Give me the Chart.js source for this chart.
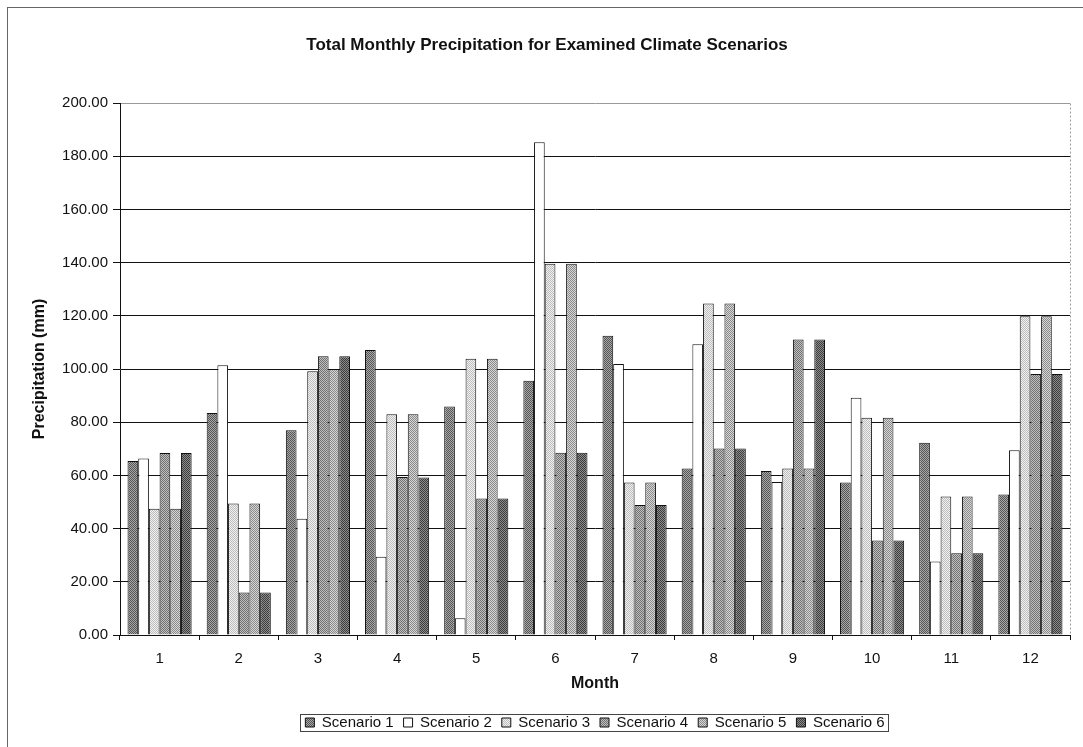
<!DOCTYPE html>
<html lang="en">
<head>
  <meta charset="UTF-8" />
  <title>Total Monthly Precipitation</title>
  <script src="https://cdn.jsdelivr.net/npm/chart.js"></script>
  <style>
    body {
      margin: 0;
      background: #ffffff;
      font-family: "Liberation Sans", Arial, sans-serif;
    }
    #rainChart {
      position: absolute;
      left: 0;
      top: 0;
    }
    /* the scan only shows the left and top edge of the chart frame */
    .frame {
      position: absolute;
      left: 7px;
      top: 7px;
      width: 1100px;
      height: 800px;
      border-left: 1px solid #666;
      border-top: 1px solid #666;
      pointer-events: none;
    }
  </style>
</head>
<body>
  <canvas id="rainChart" width="1083" height="747"></canvas>
  <div class="frame"></div>

  <script>
    // months on the x axis
    const months = ['1', '2', '3', '4', '5', '6', '7', '8', '9', '10', '11', '12'];
    const yTicks = [0, 20, 40, 60, 80, 100, 120, 140, 160, 180, 200];

    // precipitation (mm)
    const scenario1 = [65.4, 83.5, 77.0, 107.1, 85.9, 95.6, 112.5, 62.6, 61.7, 57.3, 72.3, 52.8];
    const scenario2 = [66.4, 101.4, 43.7, 29.4, 6.3, 185.2, 101.9, 109.3, 57.5, 89.2, 27.6, 69.5];
    const scenario3 = [47.5, 49.4, 99.2, 83.0, 103.9, 139.6, 57.3, 124.6, 62.6, 81.7, 52.1, 119.8];
    const scenario4 = [68.4, 16.0, 104.8, 59.4, 51.3, 68.5, 48.9, 70.1, 111.1, 35.5, 30.7, 98.1];
    const scenario5 = [47.5, 49.4, 100.0, 83.0, 103.9, 139.6, 57.3, 124.6, 62.6, 81.7, 52.1, 119.8];
    const scenario6 = [68.4, 16.0, 104.8, 59.2, 51.3, 68.5, 48.9, 70.1, 111.1, 35.5, 30.7, 98.1];

    const names = ['Scenario 1', 'Scenario 2', 'Scenario 3', 'Scenario 4', 'Scenario 5', 'Scenario 6'];
    const series = [scenario1, scenario2, scenario3, scenario4, scenario5, scenario6];

    // little dithered fills, like the old printed excel chart
    function hatch(dark, light, step) {
      const c = document.createElement('canvas');
      c.width = step;
      c.height = step;
      const g = c.getContext('2d');
      g.fillStyle = light;
      g.fillRect(0, 0, step, step);
      g.fillStyle = dark;
      for (let i = 0; i < step; i++) {
        g.fillRect(i, i, 1, 1);
        g.fillRect((i + 2) % step, i, 1, 1);
      }
      return g.createPattern(c, 'repeat');
    }

    const fills = [
      hatch('#555555', '#a8a8a8', 4),
      '#ffffff',
      hatch('#bdbdbd', '#f0f0f0', 4),
      hatch('#707070', '#c0c0c0', 4),
      hatch('#8a8a8a', '#d6d6d6', 4),
      hatch('#3c3c3c', '#8c8c8c', 4)
    ];

    const FONT = 'Liberation Sans';

    // box round the legend + dotted plot border, excel style
    const extras = {
      id: 'extras',
      afterDraw(chart) {
        const ctx = chart.ctx;
        const a = chart.chartArea;
        ctx.save();
        ctx.strokeStyle = '#999';
        ctx.lineWidth = 1;
        ctx.setLineDash([2, 2]);
        ctx.beginPath();
        ctx.moveTo(Math.round(a.right) + 0.5, Math.round(a.top) + 0.5);
        ctx.lineTo(Math.round(a.right) + 0.5, Math.round(a.bottom));
        ctx.stroke();
        ctx.setLineDash([]);

        const lg = chart.legend;
        if (lg && lg.legendHitBoxes.length) {
          let x0 = Infinity, x1 = -Infinity, y0 = Infinity, y1 = -Infinity;
          lg.legendHitBoxes.forEach(b => {
            x0 = Math.min(x0, b.left);
            x1 = Math.max(x1, b.left + b.width);
            y0 = Math.min(y0, b.top);
            y1 = Math.max(y1, b.top + b.height);
          });
          ctx.strokeStyle = '#444';
          ctx.strokeRect(Math.round(x0 - 5) + 0.5, Math.round(y0 - 1) + 0.5, Math.round(x1 - x0 + 9), Math.round(y1 - y0 + 2));
        }
        ctx.restore();
      }
    };

    const ctx = document.getElementById('rainChart').getContext('2d');
    new Chart(ctx, {
      type: 'bar',
      data: {
        labels: months,
        datasets: series.map((vals, i) => ({
          label: names[i],
          data: vals,
          backgroundColor: fills[i],
          borderColor: '#111',
          borderWidth: 1,
          categoryPercentage: 0.81,
          barPercentage: 1.0
        }))
      },
      options: {
        responsive: false,
        animation: false,
        layout: { padding: { left: 24, right: 13, top: 0, bottom: 7 } },
        plugins: {
          title: {
            display: true,
            text: 'Total Monthly Precipitation for Examined Climate Scenarios',
            color: '#111',
            font: { family: FONT, size: 17, weight: 'bold' },
            padding: { top: 35, bottom: 47.6 }
          },
          legend: {
            position: 'bottom',
            fullSize: false,
            labels: {
              color: '#111',
              font: { family: FONT, size: 15 },
              boxWidth: 9,
              boxHeight: 9,
              padding: 10
            }
          },
          tooltip: { enabled: false }
        },
        scales: {
          x: {
            afterFit: axis => { axis.height = 70; },
            grid: { display: true, drawOnChartArea: false, offset: true, tickLength: 5, color: '#111' },
            border: { color: '#111' },
            ticks: { color: '#111', font: { family: FONT, size: 15 }, padding: 10 },
            title: {
              display: true,
              text: 'Month',
              color: '#111',
              font: { family: FONT, size: 16, weight: 'bold' },
              padding: { top: 0, bottom: 12 }
            }
          },
          y: {
            min: 0,
            max: 200,
            afterBuildTicks: axis => { axis.ticks = yTicks.map(v => ({ value: v })); },
            afterFit: axis => { axis.width = 96; },
            grid: {
              color: c => (c.tick && c.tick.value === 200 ? '#999' : '#111'),
              tickColor: '#111',
              tickLength: 7
            },
            border: { color: '#111' },
            ticks: {
              color: '#111',
              font: { family: FONT, size: 15 },
              padding: 5,
              callback: v => Number(v).toFixed(2)
            },
            title: {
              display: true,
              text: 'Precipitation (mm)',
              color: '#111',
              font: { family: FONT, size: 16, weight: 'bold' },
              padding: { top: 6, bottom: 10 }
            }
          }
        }
      },
      plugins: [extras]
    });
  </script>
</body>
</html>
